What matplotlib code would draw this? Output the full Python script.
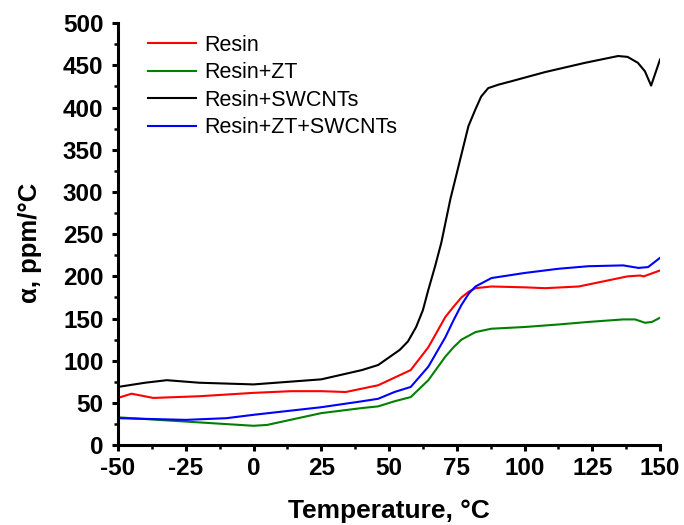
import numpy as np
import matplotlib.pyplot as plt
from matplotlib.ticker import MultipleLocator

plt.rcParams['font.family'] = ['Liberation Sans', 'DejaVu Sans']
plt.rcParams['axes.unicode_minus'] = False

# temperature (°C) and alpha (ppm/°C)
t_resin = [-50, -45, -37, -20, 0, 14, 25, 34, 46, 52, 58, 64.5, 70.8, 73.8, 76.7, 79.5, 81.9, 87.8, 100, 107.6, 120, 132, 138, 142.6, 144, 150]
a_resin = [56, 61, 56, 58, 62, 64, 64, 63, 71, 80, 89, 116, 152, 164, 175, 182, 186, 188, 187, 186, 188, 196, 200, 201, 200, 207]

t_zt = [-50, -25, -10, 0, 5, 15, 25, 40, 46, 52, 58, 64.5, 70.8, 73.8, 76.7, 81.9, 87.8, 100, 112.5, 123.5, 136.4, 140.8, 144.5, 147, 150]
a_zt = [33, 28, 25, 23, 24, 31, 38, 44, 46, 52, 57, 77, 105, 116, 125, 134, 138, 140, 143, 146, 149, 149, 145, 146, 151]

t_cnt = [-50, -40, -32, -20, 0, 25, 40, 46, 50, 54, 57, 60, 62.5, 64.5, 67, 69.3, 72.6, 75.6, 79.3, 81.9, 84, 86.6, 90.3, 95, 107.6, 122.4, 134.5, 138, 141.8, 144.4, 146.7, 150]
a_cnt = [69, 74, 77, 74, 72, 78, 89, 95, 104, 113, 123, 140, 160, 184, 212, 240, 291, 330, 378, 398, 413, 423, 427, 431, 442, 453, 461, 460, 453, 443, 426, 457]

t_zt_cnt = [-50, -25, -10, 0, 25, 40, 46, 52, 58, 64.5, 70.8, 73.8, 76.7, 79.5, 81.9, 87.8, 100, 112.5, 123.5, 136.4, 142, 145.6, 150]
a_zt_cnt = [32, 30, 32, 36, 45, 52, 55, 63, 69, 93, 128, 148, 166, 180, 188, 198, 204, 209, 212, 213, 210, 211, 222]

fig = plt.figure(figsize=(6.84, 5.25), dpi=100)
ax = fig.add_axes([0.1725, 0.152, 0.7925, 0.804])

ax.plot(t_resin, a_resin, color='red', lw=1.5, label='Resin')
ax.plot(t_zt, a_zt, color='green', lw=1.5, label='Resin+ZT')
ax.plot(t_cnt, a_cnt, color='black', lw=1.5, label='Resin+SWCNTs')
ax.plot(t_zt_cnt, a_zt_cnt, color='blue', lw=1.5, label='Resin+ZT+SWCNTs')

ax.set_xlim(-50, 150)
ax.set_ylim(0, 500)
ax.xaxis.set_major_locator(MultipleLocator(25))
ax.xaxis.set_minor_locator(MultipleLocator(12.5))
ax.yaxis.set_major_locator(MultipleLocator(50))
ax.yaxis.set_minor_locator(MultipleLocator(25))

for s in ['top', 'right']:
    ax.spines[s].set_visible(False)
for s in ['left', 'bottom']:
    ax.spines[s].set_linewidth(2.2)

ax.tick_params(which='major', direction='out', length=4.5, width=2.2, labelsize=17.5)
ax.tick_params(axis='y', which='major', pad=6)
ax.tick_params(axis='x', which='major', pad=4)
ax.tick_params(which='minor', direction='out', length=3, width=1.8)
for lab in ax.get_xticklabels() + ax.get_yticklabels():
    lab.set_fontweight('bold')

ax.set_xlabel('Temperature, °C', fontsize=19, fontweight='bold', labelpad=14)
ax.set_ylabel('α, ppm/°C', fontsize=18.5, fontweight='bold')
ax.yaxis.set_label_coords(-0.14, 0.48)

ax.legend(loc='upper left', bbox_to_anchor=(0.02, 1.018), frameon=False, fontsize=15.5,
          handlelength=2.2, handletextpad=0.4, labelspacing=0.3)

fig.savefig('out.png', dpi=100)
